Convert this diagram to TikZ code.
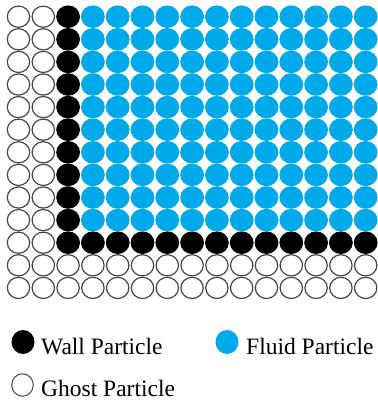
\documentclass[tikz,border=0pt]{standalone}
\usepackage{fontspec}
\setmainfont{Liberation Serif}
\definecolor{fluidblue}{RGB}{0,170,234}
\definecolor{ghostgray}{RGB}{70,70,70}
\tikzset{
  fluidp/.style={fill=fluidblue},
  wallp/.style={fill=black},
  ghostp/.style={draw=ghostgray,fill=white,line width=1.2pt},
  legtext/.style={anchor=base west,inner sep=0pt,font=\fontsize{23.5}{26}\selectfont}
}
\begin{document}
\begin{tikzpicture}[x=1pt,y=-1pt]
\useasboundingbox (0,0) rectangle (378,400);
\def\px#1{18.5+24.8*#1}
\def\py#1{16.7+22.6*#1}
% ghost particles: columns 0,1 all rows; rows 11,12 all columns
\foreach \i in {0,1}{\foreach \j in {0,...,12}{
  \draw[ghostp] ({\px{\i}},{\py{\j}}) ellipse [x radius=11.2,y radius=10.6];}}
\foreach \i in {2,...,14}{\foreach \j in {11,12}{
  \draw[ghostp] ({\px{\i}},{\py{\j}}) ellipse [x radius=11.2,y radius=10.6];}}
% wall particles
\foreach \j in {0,...,10}{
  \fill[wallp] ({\px{2}},{\py{\j}}) ellipse [x radius=11.9,y radius=11.3];}
\foreach \i in {3,...,14}{
  \fill[wallp] ({\px{\i}},{\py{10}}) ellipse [x radius=11.9,y radius=11.3];}
% fluid particles
\foreach \i in {3,...,14}{\foreach \j in {0,...,9}{
  \fill[fluidp] ({\px{\i}},{\py{\j}}) ellipse [x radius=11.9,y radius=11.3];}}
% legend
\fill[wallp] (23,342) ellipse [x radius=11.5,y radius=12];
\node[legtext] (wall) at (41,354) {Wall Particle};
\fill[fluidp] (227,342) ellipse [x radius=11.5,y radius=12];
\node[legtext] (fluid) at (246,354) {Fluid Particle};
\draw[ghostp,line width=1pt] (22.5,385) ellipse [x radius=10.8,y radius=11.2];
\node[legtext] (ghost) at (41,396) {Ghost Particle};
\end{tikzpicture}
\end{document}
